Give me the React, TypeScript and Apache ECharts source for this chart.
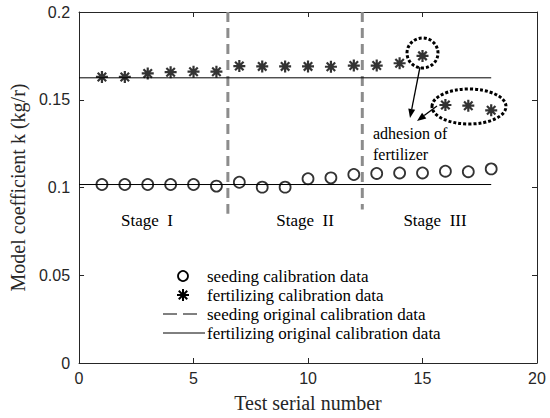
import React, { useEffect, useRef } from "react";
import * as echarts from "echarts";

const testNumbers = [1, 2, 3, 4, 5, 6, 7, 8, 9, 10, 11, 12, 13, 14, 15, 16, 17, 18];
const seedingData = [0.1017, 0.1017, 0.1017, 0.1017, 0.1017, 0.1008, 0.103, 0.1002, 0.1002, 0.105, 0.1055, 0.1074, 0.108, 0.1083, 0.1083, 0.1093, 0.109, 0.1106];
const fertilizingData = [0.163, 0.163, 0.165, 0.1657, 0.166, 0.166, 0.1692, 0.169, 0.169, 0.169, 0.1688, 0.1695, 0.1695, 0.1708, 0.175, 0.147, 0.1466, 0.144];
const seedingOriginal = 0.1017;
const fertilizingOriginal = 0.1625;
const originalRange = [0, 18];
const stageBreaks = [6.5, 12.37];
const stageBreakBottoms = [0.085, 0.0875];
const legendNames = [
  "seeding calibration data",
  "fertilizing calibration data",
  "seeding original calibration data",
  "fertilizing original calibration data",
];
const stageNames = ["Stage  I", "Stage  II", "Stage  III"];

const STAR = "path://M6,0L6,12M0,6L12,6M1.76,1.76L10.24,10.24M1.76,10.24L10.24,1.76";
const SERIF = "'Liberation Serif', 'Times New Roman', serif";
const SANS = "'Liberation Sans', Arial, sans-serif";

function starGroup(cx: number, cy: number, r: number) {
  const d = r * 0.707;
  const seg = (x1: number, y1: number, x2: number, y2: number) => ({
    type: "line",
    shape: { x1: cx + x1, y1: cy + y1, x2: cx + x2, y2: cy + y2 },
    style: { stroke: "#000", lineWidth: 2 },
  });
  return {
    type: "group",
    children: [seg(0, -r, 0, r), seg(-r, 0, r, 0), seg(-d, -d, d, d), seg(-d, d, d, -d)],
  };
}

function arrow(x1: number, y1: number, x2: number, y2: number) {
  const ang = Math.atan2(y2 - y1, x2 - x1);
  const len = 9;
  const w = 3.5;
  const bx = x2 - len * Math.cos(ang);
  const by = y2 - len * Math.sin(ang);
  const px = -Math.sin(ang) * w;
  const py = Math.cos(ang) * w;
  return {
    type: "group",
    children: [
      { type: "line", shape: { x1, y1, x2: bx, y2: by }, style: { stroke: "#000", lineWidth: 1.3 } },
      {
        type: "polygon",
        shape: { points: [[x2, y2], [bx + px, by + py], [bx - px, by - py]] },
        style: { fill: "#000" },
      },
    ],
  };
}

export default function App() {
  const ref = useRef<HTMLDivElement>(null);
  useEffect(() => {
    if (!ref.current) return;
    const chart = echarts.init(ref.current, null, { renderer: "svg" });
    const legendX = 183;
    const legendTextX = 207;
    const rows = [276, 295, 314, 333];
    const legendText = (i: number) => ({
      type: "text",
      x: legendTextX,
      y: rows[i],
      style: { text: legendNames[i], font: `17px ${SERIF}`, fill: "#000", verticalAlign: "middle" },
    });
    chart.setOption({
      animation: false,
      backgroundColor: "#fff",
      grid: { left: 73, right: 13, top: 12, bottom: 54 },
      xAxis: [
        {
          type: "value",
          min: 0,
          max: 20,
          interval: 5,
          name: "Test serial number",
          nameLocation: "middle",
          nameGap: 30,
          nameTextStyle: { fontFamily: SERIF, fontSize: 20, color: "#262626" },
          axisLine: { show: true, lineStyle: { color: "#262626", width: 1 } },
          axisTick: { show: true, inside: true, length: 5, lineStyle: { color: "#262626" } },
          axisLabel: { fontFamily: SANS, fontSize: 16, color: "#262626", margin: 7 },
          splitLine: { show: false },
        },
        {
          type: "value",
          position: "top",
          min: 0,
          max: 20,
          interval: 5,
          axisLine: { show: true, onZero: false, lineStyle: { color: "#262626", width: 1 } },
          axisTick: { show: true, inside: true, length: 5, lineStyle: { color: "#262626" } },
          axisLabel: { show: false },
          splitLine: { show: false },
        },
      ],
      yAxis: [
        {
          type: "value",
          min: 0,
          max: 0.2,
          interval: 0.05,
          name: "Model coefficient k (kg/r)",
          nameLocation: "middle",
          nameGap: 46,
          nameTextStyle: { fontFamily: SERIF, fontSize: 20, color: "#262626" },
          axisLine: { show: true, lineStyle: { color: "#262626", width: 1 } },
          axisTick: { show: true, inside: true, length: 5, lineStyle: { color: "#262626" } },
          axisLabel: {
            fontFamily: SANS,
            fontSize: 16,
            color: "#262626",
            margin: 9,
            formatter: (v: number) => String(Math.round(v * 100) / 100),
          },
          splitLine: { show: false },
        },
        {
          type: "value",
          position: "right",
          min: 0,
          max: 0.2,
          interval: 0.05,
          axisLine: { show: true, onZero: false, lineStyle: { color: "#262626", width: 1 } },
          axisTick: { show: true, inside: true, length: 5, lineStyle: { color: "#262626" } },
          axisLabel: { show: false },
          splitLine: { show: false },
        },
      ],
      series: [
        ...stageBreaks.map((x, i) => ({
          type: "line",
          data: [[x, 0.2], [x, stageBreakBottoms[i]]],
          symbol: "none",
          lineStyle: { color: "#8c8c8c", width: 3, type: [10, 6] },
          silent: true,
          z: 1,
        })),
        {
          type: "line",
          name: legendNames[2],
          data: originalRange.map((x) => [x, seedingOriginal]),
          symbol: "none",
          lineStyle: { color: "#000", width: 1 },
          z: 2,
        },
        {
          type: "line",
          name: legendNames[3],
          data: originalRange.map((x) => [x, fertilizingOriginal]),
          symbol: "none",
          lineStyle: { color: "#000", width: 1 },
          z: 2,
        },
        {
          type: "scatter",
          name: legendNames[0],
          data: testNumbers.map((x, i) => [x, seedingData[i]]),
          symbol: "circle",
          symbolSize: 11,
          itemStyle: { color: "none", borderColor: "#000", borderWidth: 1.8 },
          z: 3,
        },
        {
          type: "scatter",
          name: legendNames[1],
          data: testNumbers.map((x, i) => [x, fertilizingData[i]]),
          symbol: STAR,
          symbolSize: 12,
          itemStyle: { color: "none", borderColor: "#000", borderWidth: 2.2 },
          z: 3,
        },
      ],
      graphic: [
        { type: "text", x: 147, y: 220, style: { text: stageNames[0], font: `17px ${SERIF}`, fill: "#000", align: "center", verticalAlign: "middle" } },
        { type: "text", x: 305, y: 220, style: { text: stageNames[1], font: `17px ${SERIF}`, fill: "#000", align: "center", verticalAlign: "middle" } },
        { type: "text", x: 435, y: 220, style: { text: stageNames[2], font: `17px ${SERIF}`, fill: "#000", align: "center", verticalAlign: "middle" } },
        { type: "ellipse", shape: { cx: 422.5, cy: 53, rx: 15.5, ry: 15 }, style: { fill: "none", stroke: "#000", lineWidth: 3, lineDash: [3, 2] } },
        { type: "ellipse", shape: { cx: 469, cy: 106.5, rx: 37, ry: 17.5 }, style: { fill: "none", stroke: "#000", lineWidth: 3, lineDash: [3, 2] } },
        arrow(420, 67, 410, 118),
        arrow(437, 106, 417, 121),
        { type: "text", x: 373, y: 133, style: { text: "adhesion of", font: `16px ${SERIF}`, fill: "#000", verticalAlign: "middle" } },
        { type: "text", x: 373, y: 154, style: { text: "fertilizer", font: `16px ${SERIF}`, fill: "#000", verticalAlign: "middle" } },
        { type: "circle", shape: { cx: legendX, cy: rows[0], r: 5 }, style: { fill: "none", stroke: "#000", lineWidth: 1.8 } },
        starGroup(legendX, rows[1], 6),
        { type: "line", shape: { x1: 163, y1: rows[2], x2: 177, y2: rows[2] }, style: { stroke: "#000", lineWidth: 1 } },
        { type: "line", shape: { x1: 183, y1: rows[2], x2: 197, y2: rows[2] }, style: { stroke: "#000", lineWidth: 1 } },
        { type: "line", shape: { x1: 163, y1: rows[3], x2: 205, y2: rows[3] }, style: { stroke: "#000", lineWidth: 1 } },
        legendText(0),
        legendText(1),
        legendText(2),
        legendText(3),
      ],
    });
    return () => chart.dispose();
  }, []);
  return <div ref={ref} style={{ position: "absolute", left: 0, top: 0, width: 550, height: 418 }} />;
}
